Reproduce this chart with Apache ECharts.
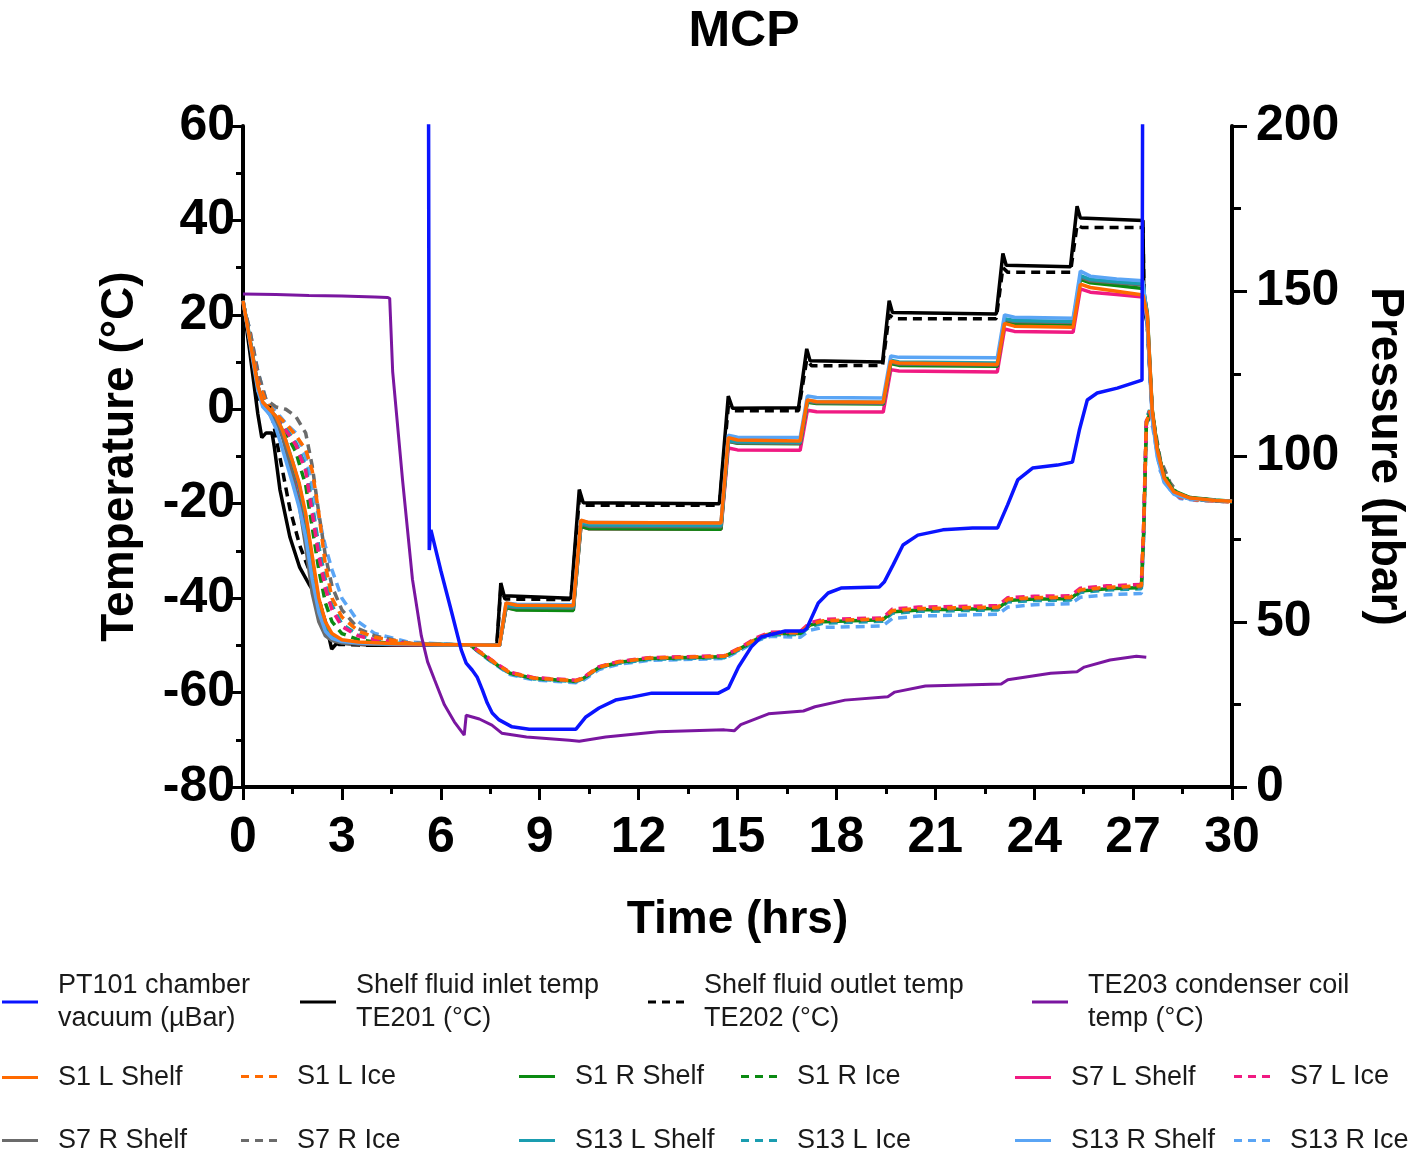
<!DOCTYPE html>
<html><head><meta charset="utf-8">
<script src="https://cdn.jsdelivr.net/npm/echarts@6/dist/echarts.min.js"></script>
<style>html,body{margin:0;padding:0;background:#fff}#c{width:1416px;height:1153px}</style>
</head><body><div id="c"></div>
<script>
// ---------- DATA ----------
// Pressure PT101 (µbar)
const pT = [5.62,5.65,5.7,6.0,6.3,6.62,6.77,6.95,7.1,7.26,7.41,7.56,7.77,8.16,8.68,10.1,10.4,10.8,11.3,11.8,12.4,14.42,14.73,15.03,15.42,15.72,16.45,17.0,17.1,17.45,17.75,18.14,19.3,19.45,19.72,20.02,20.47,21.23,22.13,22.89,23.19,23.5,23.95,24.7,25.16,25.37,25.61,25.91,26.52,27.27,27.3];
const pV = [260,71.7,77.8,65.5,54,41.5,37.5,35.4,33.3,29.4,25.4,22.4,20.3,18.2,17.5,17.5,21.2,23.9,26.3,27.2,28.4,28.4,30,36.3,42.4,45.4,47.2,47.2,48,55.7,58.7,60.2,60.5,62,67.2,73.2,76.2,77.8,78.4,78.4,85.3,92.9,96.5,97.4,98.3,108,117.1,119.2,120.7,123.1,260];

// Shelf fluid inlet TE201
const inletT = [0,0.2,0.45,0.57,0.7,0.88,0.95,1.12,1.42,1.72,2.0,2.27,2.5,2.69,2.85,4,7.7,7.82,7.92,9.95,10.2,10.32,14.45,14.72,14.85,16.85,17.1,17.2,19.4,19.6,19.7,22.85,23.05,23.15,25.1,25.3,25.4,27.3,27.33,27.43,27.58,27.73,27.94,28.24,28.73,29.5,30];
const inletV = [22.5,12.5,-1,-6,-5,-5,-8,-17,-27,-33.5,-37,-40,-45,-50.8,-49.5,-50,-50,-36.8,-39.5,-40,-17,-19.8,-20,2.8,0.2,0.3,12.8,10.3,10,23,20.5,20.2,33,30.5,30.2,43,40.5,40,21.5,18,-0.5,-8.5,-14.5,-17.5,-18.8,-19.3,-19.5];

// Shelf fluid outlet TE202
const outletT = [0,0.2,0.45,0.6,0.85,1.0,1.2,1.42,1.72,2.0,2.3,2.5,2.7,2.9,4,7.7,7.82,7.95,9.95,10.2,10.35,14.45,14.72,14.9,16.85,17.1,17.25,19.4,19.6,19.75,22.85,23.05,23.2,25.1,25.3,25.45,27.3,27.33,27.43,27.58,27.73,27.94,28.24,28.73,29.5,30];
const outletV = [22.5,14,2,0.8,0.3,-6,-13,-21,-28.8,-34,-40,-45.5,-48.8,-49.8,-50,-50,-38,-40.2,-40.3,-19,-20.3,-20.3,0.5,-0.3,-0.3,10.5,9.2,9.3,20,19.2,19.2,30,29,29,39,38.5,38.5,24,18,-0.5,-8.5,-14.5,-17.5,-18.8,-19.3,-19.5];

// TE203 condenser coil
const condT = [0,1,2,3,4,4.38,4.45,4.54,4.84,5.14,5.41,5.6,5.81,6.11,6.41,6.71,6.77,7.17,7.55,7.85,8.6,9.9,10.2,11.0,12.6,14.6,14.9,15.1,15.94,17.0,17.35,18.26,19.56,19.77,20.7,23.0,23.2,24.5,25.3,25.52,26.3,27.1,27.4];
const condV = [24.4,24.3,24.1,24,23.8,23.7,23.5,8,-15,-36,-48,-53.5,-57.3,-62.6,-66.2,-69,-64.8,-65.6,-66.9,-68.6,-69.4,-70.1,-70.3,-69.4,-68.3,-67.9,-68.1,-66.8,-64.5,-63.9,-63,-61.6,-60.9,-59.9,-58.6,-58.2,-57.3,-55.9,-55.6,-54.6,-53.1,-52.3,-52.5];

// Shelf probes (common time base)
const shelfT = [0,0.2,0.45,0.6,0.8,1.0,1.2,1.5,1.7,1.9,2.1,2.3,2.5,2.7,3.0,3.5,4.5,6.0,7.78,7.98,8.3,10.02,10.25,10.5,14.5,14.72,15.0,16.9,17.12,17.4,19.42,19.65,19.9,22.88,23.1,23.4,25.18,25.4,25.7,26.5,27.3,27.43,27.58,27.73,27.94,28.24,28.73,29.5,30];
const s1LShelf = [23,15,5,1.5,0,-1.5,-4.5,-11,-15.5,-22,-31,-40,-45,-47.5,-48.8,-49.3,-49.6,-49.8,-50,-41,-41.5,-41.6,-23.5,-24,-24.1,-6,-6.5,-6.7,2,1.6,1.5,10.2,9.8,9.5,18.2,17.6,17.4,26.5,25.8,25,24.2,20,-0.3,-8.5,-14.5,-17.5,-18.8,-19.3,-19.5];
const s1RShelf = [23,15,4.5,1,-0.5,-2,-5,-11.5,-16,-23,-33,-41.5,-46,-48,-49,-49.4,-49.7,-49.8,-50,-42,-42.5,-42.6,-24.8,-25.3,-25.4,-6.8,-7.2,-7.3,1.5,1.2,1.1,9.7,9.3,9.1,18.8,18.2,18,27.5,26.8,26.2,25.6,20.5,0,-8,-14.2,-17.3,-18.7,-19.2,-19.5];
const s7LShelf = [23,15,5,1.2,-0.3,-2,-5.5,-12,-17,-25,-36,-43,-47,-48.7,-49.3,-49.6,-49.8,-49.9,-50,-42,-42.4,-42.5,-24.8,-25.3,-25.4,-8.2,-8.6,-8.7,-0.2,-0.5,-0.6,8.4,8.1,7.9,17,16.5,16.3,25.5,24.8,24.3,23.8,19,-1,-9,-15,-17.8,-18.9,-19.3,-19.5];
const s7RShelf = [23,15,5,1,-1,-2.5,-6,-14,-20,-29,-39,-45,-48,-49,-49.5,-49.7,-49.8,-49.9,-50,-41.8,-42,-42.1,-24.3,-24.8,-24.9,-6.8,-7.1,-7.2,1.7,1.4,1.3,10,9.6,9.4,19,18.6,18.4,28,27.2,26.8,26.3,20,-0.5,-8.3,-14.5,-17.5,-18.8,-19.3,-19.5];
const s13LShelf = [23,15.5,5,1.5,0,-1.5,-4.5,-11,-16,-23,-32,-40.5,-45.5,-47.8,-49,-49.4,-49.7,-49.8,-50,-41.5,-41.8,-41.9,-24,-24.5,-24.6,-6.6,-6.9,-7,1.8,1.6,1.5,10.4,10,9.8,19.2,18.8,18.6,28.3,27.5,27,26.6,19.5,-1,-9,-15,-17.8,-18.9,-19.3,-19.5];
const s13RShelf = [23,14.5,4,0.5,-1,-4,-8.5,-15.6,-20.7,-27,-36,-43,-47,-48.5,-49.2,-49.5,-49.7,-49.8,-50,-41,-41.3,-41.4,-23.6,-24,-24.1,-5.5,-5.9,-6,2.8,2.5,2.4,11.3,11,10.9,20,19.5,19.3,29.3,28.2,27.6,27.2,18,-2,-10,-15.5,-18,-19,-19.3,-19.5];

// Ice probes (common time base)
const iceT = [0,0.2,0.45,0.7,1.0,1.3,1.6,1.9,2.1,2.3,2.5,2.7,3.0,3.5,4.0,5.0,6.9,7.3,7.7,8.1,8.8,10.1,10.3,10.8,11.4,12.3,14.6,15.1,15.6,16.0,16.9,17.2,17.6,19.4,19.7,20.5,22.9,23.2,24.0,25.1,25.4,26.2,27.25,27.32,27.4,27.5,27.6,27.82,28.12,28.42,28.94,30];
const s1LIce = [22.5,16,6,1.5,-1,-3,-5.5,-8.5,-13,-22,-33,-40,-44,-47,-48.3,-49.5,-50,-52,-54,-55.8,-56.9,-57.5,-57,-54.6,-53.5,-52.7,-52.3,-50.5,-48.5,-47.4,-47.3,-45.5,-44.8,-44.4,-42.6,-42.2,-41.9,-40.2,-39.9,-39.8,-38.2,-37.7,-37.4,-25,-3,-0.3,-2.5,-12.2,-16.5,-18.6,-19.2,-19.6];
const s1RIce = [22.5,16,5.5,1,-2,-5,-9,-16,-25,-34,-41,-45,-47.5,-48.8,-49.3,-49.7,-50,-52.1,-54.1,-55.9,-57,-57.6,-57.1,-54.7,-53.6,-52.8,-52.4,-50.6,-48.6,-47.5,-47.5,-45.7,-45,-44.6,-42.9,-42.5,-42.2,-40.5,-40.2,-40.1,-38.5,-38,-37.8,-26,-4,-0.8,-2,-11.5,-16,-18.4,-19.1,-19.6];
const s7LIce = [22.5,16,6,1.2,-2,-4.5,-7.5,-13,-22,-31,-38,-42.5,-46,-48,-48.8,-49.6,-50,-51.9,-53.9,-55.7,-56.8,-57.4,-56.9,-54.5,-53.4,-52.6,-52.2,-50.4,-48.3,-47.2,-47.1,-45.2,-44.5,-44.2,-42.3,-41.9,-41.6,-39.9,-39.6,-39.5,-37.9,-37.4,-37.1,-24,-2.5,-0.5,-3,-12.5,-16.7,-18.7,-19.2,-19.6];
const s7RIce = [22.5,17,8,2,0.5,0,-1.5,-5,-12,-22,-31,-37.5,-42.5,-46.5,-48,-49.5,-50,-52,-54,-55.8,-56.9,-57.5,-57,-54.6,-53.5,-52.7,-52.3,-50.5,-48.5,-47.4,-47.3,-45.6,-44.9,-44.5,-42.8,-42.4,-42.1,-40.4,-40.1,-40,-38.4,-37.9,-37.6,-26,-3.5,-0.3,-1.5,-10.5,-15.5,-18.2,-19,-19.6];
const s13LIce = [22.5,16,6,1.5,-1.5,-4,-7,-12,-20,-29,-36,-41.5,-45.5,-47.8,-48.8,-49.6,-50,-52.2,-54.2,-56,-57.1,-57.7,-57.2,-54.8,-53.8,-53,-52.6,-50.8,-48.8,-47.8,-47.7,-46,-45.3,-44.9,-43.2,-42.8,-42.5,-40.8,-40.5,-40.4,-38.8,-38.3,-38,-27,-2,-0.2,-2.5,-12,-16.4,-18.6,-19.2,-19.6];
const s13RIce = [22.5,17,8,2,-0.5,-3,-5,-10,-16,-23,-29,-34,-40,-45,-47.5,-49.3,-50,-52.3,-54.3,-56.2,-57.3,-57.9,-57.5,-55.1,-54,-53.2,-52.8,-51,-49,-48.1,-48.3,-46.8,-46.2,-45.9,-44.3,-43.8,-43.4,-41.9,-41.4,-41.2,-39.8,-39.3,-39,-28,-4,-1.5,-4,-13,-17,-18.9,-19.3,-19.6];

// Axis ticks
const xTicks = {min:0, max:30, step:3};
const tTicks = {min:-80, max:60, step:20};
const pTicks = {min:0, max:200, step:50};

// ---------- CHART ----------
const FONT = "'Liberation Sans', Arial, sans-serif";
const C = {
  blue:'#0a14ff', black:'#000000', purple:'#7a16a0',
  orange:'#ff6a00', green:'#0b8a12', pink:'#f01a82', gray:'#6b6b6b', teal:'#1a9db0', lblue:'#5aa5f5'
};
function pairs(T,V){ return T.map((t,i)=>[t,V[i]]); }
function mk(name,T,V,color,dashed,yIdx,width){
  return {type:'line', name, data:pairs(T,V), yAxisIndex:yIdx||0, symbol:'none', showSymbol:false,
    animation:false, lineStyle:{color, width:width||3.5, type: dashed?[9,6]:'solid', cap:'butt'}, itemStyle:{color}};
}
const N = {
  p:'PT101 chamber vacuum (µBar)', in:'Shelf fluid inlet temp TE201 (°C)', out:'Shelf fluid outlet temp TE202 (°C)', cond:'TE203 condenser coil temp (°C)',
  s1ls:'S1 L Shelf', s1li:'S1 L Ice', s1rs:'S1 R Shelf', s1ri:'S1 R Ice', s7ls:'S7 L Shelf', s7li:'S7 L Ice',
  s7rs:'S7 R Shelf', s7ri:'S7 R Ice', s13ls:'S13 L Shelf', s13li:'S13 L Ice', s13rs:'S13 R Shelf', s13ri:'S13 R Ice'
};
const series = [
  mk(N.s13ri, iceT, s13RIce, C.lblue, true),
  mk(N.s13li, iceT, s13LIce, C.teal, true),
  mk(N.s7ri, iceT, s7RIce, C.gray, true),
  mk(N.s1ri, iceT, s1RIce, C.green, true),
  mk(N.s7li, iceT, s7LIce, C.pink, true),
  mk(N.s1li, iceT, s1LIce, C.orange, true),
  mk(N.in, inletT, inletV, C.black, false),
  mk(N.out, outletT, outletV, C.black, true),
  mk(N.s7ls, shelfT, s7LShelf, C.pink, false),
  mk(N.s1rs, shelfT, s1RShelf, C.green, false),
  mk(N.s7rs, shelfT, s7RShelf, C.gray, false),
  mk(N.s13ls, shelfT, s13LShelf, C.teal, false),
  mk(N.s13rs, shelfT, s13RShelf, C.lblue, false),
  mk(N.s1ls, shelfT, s1LShelf, C.orange, false),
  mk(N.cond, condT, condV, C.purple, false, 0, 3),
  mk(N.p, pT, pV, C.blue, false, 1, 3.5)
];

const SOLID = 'path://M0,0h36v3h-36z';
const DASH = 'path://M0,0h8v3h-8z M14,0h8v3h-8z M28,0h8v3h-8z';
function leg(name, dashed, left, top, fmt){
  return {data:[{name, icon: dashed?DASH:SOLID}], left, top, padding:0, itemWidth:36, itemHeight:3,
    selectedMode:false, symbolKeepAspect:false,
    formatter: fmt ? (()=>fmt) : undefined,
    textStyle:{fontFamily:FONT, fontSize:27, color:'#1a1a1a', lineHeight:33, padding:[0,0,0,15]}};
}
const col = [2, 241, 519, 741, 1015, 1234];
const legends = [
  leg(N.p, false, 2, 969, 'PT101 chamber\nvacuum (µBar)'),
  leg(N.in, false, 300, 969, 'Shelf fluid inlet temp\nTE201 (°C)'),
  leg(N.out, true, 648, 969, 'Shelf fluid outlet temp\nTE202 (°C)'),
  leg(N.cond, false, 1032, 969, 'TE203 condenser coil\ntemp (°C)'),
  leg(N.s1ls, false, col[0], 1061), leg(N.s1li, true, col[1], 1060), leg(N.s1rs, false, col[2], 1060),
  leg(N.s1ri, true, col[3], 1060), leg(N.s7ls, false, col[4], 1061), leg(N.s7li, true, col[5], 1060),
  leg(N.s7rs, false, col[0], 1124), leg(N.s7ri, true, col[1], 1124), leg(N.s13ls, false, col[2], 1124),
  leg(N.s13li, true, col[3], 1124), leg(N.s13rs, false, col[4], 1124), leg(N.s13ri, true, col[5], 1124)
];

const axLine = {show:true, onZero:false, lineStyle:{color:'#000', width:4}};
const lbl = {fontFamily:FONT, fontSize:50, fontWeight:'bold', color:'#000'};
const option = {
  backgroundColor:'#fff',
  animation:false,
  title:{text:'MCP', left:739, top:2, textAlign:'center',
    textStyle:{fontFamily:FONT, fontSize:50, fontWeight:'bold', color:'#000'}},
  legend: legends,
  grid:{left:243, right:181, top:126, bottom:366, containLabel:false},
  xAxis:{type:'value', min:xTicks.min, max:xTicks.max, interval:xTicks.step,
    axisLine:axLine, splitLine:{show:false},
    axisTick:{show:true, length:13, lineStyle:{width:3, color:'#000'}},
    minorTick:{show:true, splitNumber:2, length:7, lineStyle:{width:3, color:'#000'}},
    axisLabel:Object.assign({margin:26}, lbl),
    name:'Time (hrs)', nameLocation:'middle', nameGap:110,
    nameTextStyle:{fontFamily:FONT, fontSize:46, fontWeight:'bold', color:'#000'}},
  yAxis:[
    {type:'value', position:'left', min:tTicks.min, max:tTicks.max, interval:tTicks.step,
      axisLine:axLine, splitLine:{show:false},
      axisTick:{show:true, length:12, lineStyle:{width:3, color:'#000'}},
      minorTick:{show:true, splitNumber:2, length:7, lineStyle:{width:3, color:'#000'}},
      axisLabel:Object.assign({margin:8}, lbl),
      name:'Temperature (°C)', nameLocation:'middle', nameGap:100, nameRotate:90,
      nameTextStyle:{fontFamily:FONT, fontSize:46, fontWeight:'bold', color:'#000'}},
    {type:'value', position:'right', min:pTicks.min, max:pTicks.max, interval:pTicks.step,
      axisLine:axLine, splitLine:{show:false},
      axisTick:{show:true, length:15, lineStyle:{width:3, color:'#000'}},
      minorTick:{show:true, splitNumber:2, length:9, lineStyle:{width:3, color:'#000'}},
      axisLabel:Object.assign({margin:24}, lbl),
      name:'Pressure (µbar)', nameLocation:'middle', nameGap:130, nameRotate:-90,
      nameTextStyle:{fontFamily:FONT, fontSize:46, fontWeight:'bold', color:'#000'}}
  ],
  series
};
const chart = echarts.init(document.getElementById('c'), null, {renderer:'canvas'});
chart.setOption(option);
</script></body></html>
